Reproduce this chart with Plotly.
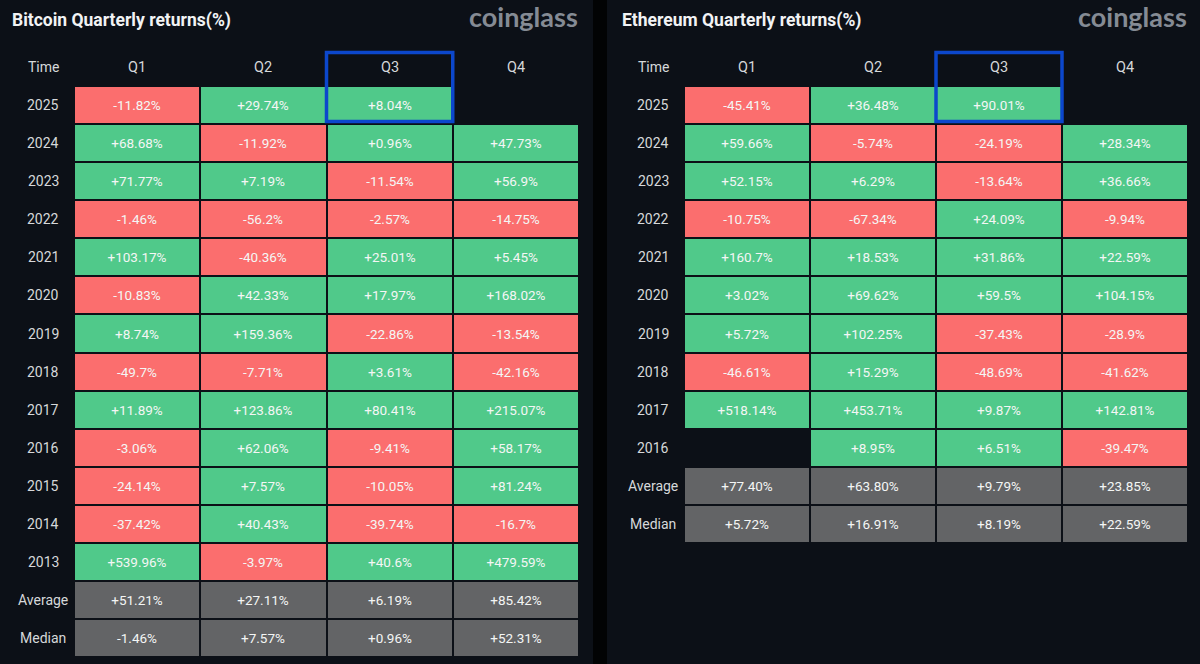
import plotly.graph_objects as go

QUARTERS = ["Q1", "Q2", "Q3", "Q4"]
BTC_ROWS = ["2025","2024","2023","2022","2021","2020","2019","2018","2017","2016","2015","2014","2013","Average","Median"]
BTC_Q1 = ["-11.82%","+68.68%","+71.77%","-1.46%","+103.17%","-10.83%","+8.74%","-49.7%","+11.89%","-3.06%","-24.14%","-37.42%","+539.96%","+51.21%","-1.46%"]
BTC_Q2 = ["+29.74%","-11.92%","+7.19%","-56.2%","-40.36%","+42.33%","+159.36%","-7.71%","+123.86%","+62.06%","+7.57%","+40.43%","-3.97%","+27.11%","+7.57%"]
BTC_Q3 = ["+8.04%","+0.96%","-11.54%","-2.57%","+25.01%","+17.97%","-22.86%","+3.61%","+80.41%","-9.41%","-10.05%","-39.74%","+40.6%","+6.19%","+0.96%"]
BTC_Q4 = [None,"+47.73%","+56.9%","-14.75%","+5.45%","+168.02%","-13.54%","-42.16%","+215.07%","+58.17%","+81.24%","-16.7%","+479.59%","+85.42%","+52.31%"]

ETH_ROWS = ["2025","2024","2023","2022","2021","2020","2019","2018","2017","2016","Average","Median"]
ETH_Q1 = ["-45.41%","+59.66%","+52.15%","-10.75%","+160.7%","+3.02%","+5.72%","-46.61%","+518.14%",None,"+77.40%","+5.72%"]
ETH_Q2 = ["+36.48%","-5.74%","+6.29%","-67.34%","+18.53%","+69.62%","+102.25%","+15.29%","+453.71%","+8.95%","+63.80%","+16.91%"]
ETH_Q3 = ["+90.01%","-24.19%","-13.64%","+24.09%","+31.86%","+59.5%","-37.43%","-48.69%","+9.87%","+6.51%","+9.79%","+8.19%"]
ETH_Q4 = [None,"+28.34%","+36.66%","-9.94%","+22.59%","+104.15%","-28.9%","-41.62%","+142.81%","-39.47%","+23.85%","+22.59%"]

W, H = 1200, 664
BG, STRIP = "#0c1017", "#020304"
GREEN, RED, GRAY = "#50c98a", "#fb6e6e", "#636466"
TXT, LABEL = "#f4f6f5", "#d6d8da"
FONT = "Roboto"
ROW_H = 38.07
TOP = 48


def code(row, s):
    if s is None:
        return None
    if row in ("Average", "Median"):
        return 0
    return 1 if s.startswith("+") else -1


fig = go.Figure()


def panel(idx, rows, cols, title, x0, x1, title_x, logo_right):
    ax = "" if idx == 1 else str(idx)
    ycats = ["Time"] + rows
    n = len(ycats)
    z = [[None] * 4] + [[code(r, c[i]) for c in cols] for i, r in enumerate(rows)]
    text = [[""] * 4] + [[c[i] or "" for c in cols] for i in range(len(rows))]
    fig.add_trace(go.Heatmap(
        z=z, x=QUARTERS, y=ycats, text=text, texttemplate="%{text}",
        textfont=dict(family=FONT, size=13.5, color=TXT),
        colorscale=[[0, RED], [0.3333, RED], [0.3334, GRAY], [0.6666, GRAY], [0.6667, GREEN], [1, GREEN]],
        zmin=-1.5, zmax=1.5, showscale=False, xgap=2, ygap=2, hoverinfo="skip",
        xaxis="x" + ax, yaxis="y" + ax))
    bottom = TOP + ROW_H * n
    fig.layout["xaxis" + ax] = dict(
        domain=[x0 / W, x1 / W], anchor="y" + ax, type="category",
        categoryorder="array", categoryarray=QUARTERS, range=[-0.5, 3.5], showticklabels=False,
        showgrid=False, zeroline=False, ticks="", fixedrange=True)
    fig.layout["yaxis" + ax] = dict(
        domain=[1 - bottom / H, 1 - TOP / H], anchor="x" + ax, type="category",
        categoryorder="array", categoryarray=ycats[::-1], range=[-0.5, n - 0.5], showticklabels=False,
        showgrid=False, zeroline=False, ticks="", fixedrange=True)
    xr, yr = "x" + ax, "y" + ax
    for j, q in enumerate(QUARTERS):
        fig.add_annotation(x=j, y=n - 1, xref=xr, yref=yr, text=q, showarrow=False,
                           font=dict(family=FONT, size=14.5, color=LABEL))
    for i, r in enumerate(ycats):
        fig.add_annotation(x=(x0 - 31) / W, y=n - 1 - i, xref="paper", yref=yr, text=r, showarrow=False,
                           xanchor="center", font=dict(family=FONT, size=14, color=LABEL))
    fig.add_annotation(x=title_x / W, y=1 - 20 / H, xref="paper", yref="paper", text="<b>" + title + "</b>",
                       showarrow=False, xanchor="left", yanchor="middle", xshift=-2,
                       font=dict(family=FONT, size=17.5, color="#f2f3f4"))
    fig.add_annotation(x=logo_right / W, y=1 - 17 / H, xref="paper", yref="paper", text="<b>coinglass</b>",
                       showarrow=False, xanchor="right", yanchor="middle", xshift=2,
                       font=dict(family="Lato", size=27, color="#858b94"))
    # highlight around the Q3 header and the 2025 cell
    fig.add_shape(type="rect", xref=xr, yref=yr, x0=1.5, x1=2.5,
                  y0=n - 1 + 0.38, y1=n - 1 - 1.43,
                  line=dict(color="#0c47cc", width=3.5), layer="above")


panel(1, BTC_ROWS, [BTC_Q1, BTC_Q2, BTC_Q3, BTC_Q4], "Bitcoin Quarterly returns(%)", 74, 579, 12, 578)
panel(2, ETH_ROWS, [ETH_Q1, ETH_Q2, ETH_Q3, ETH_Q4], "Ethereum Quarterly returns(%)", 684, 1188, 622, 1187)

fig.add_shape(type="rect", xref="paper", yref="paper", x0=593 / W, x1=607 / W, y0=0, y1=1,
              fillcolor=STRIP, line_width=0, layer="below")
fig.update_layout(width=W, height=H, margin=dict(l=0, r=0, t=0, b=0),
                  paper_bgcolor=BG, plot_bgcolor=BG, showlegend=False)
fig.write_html("out.html", config=dict(displayModeBar=False),
               post_script="document.body.style.margin='0';document.body.style.background='%s';" % BG)
